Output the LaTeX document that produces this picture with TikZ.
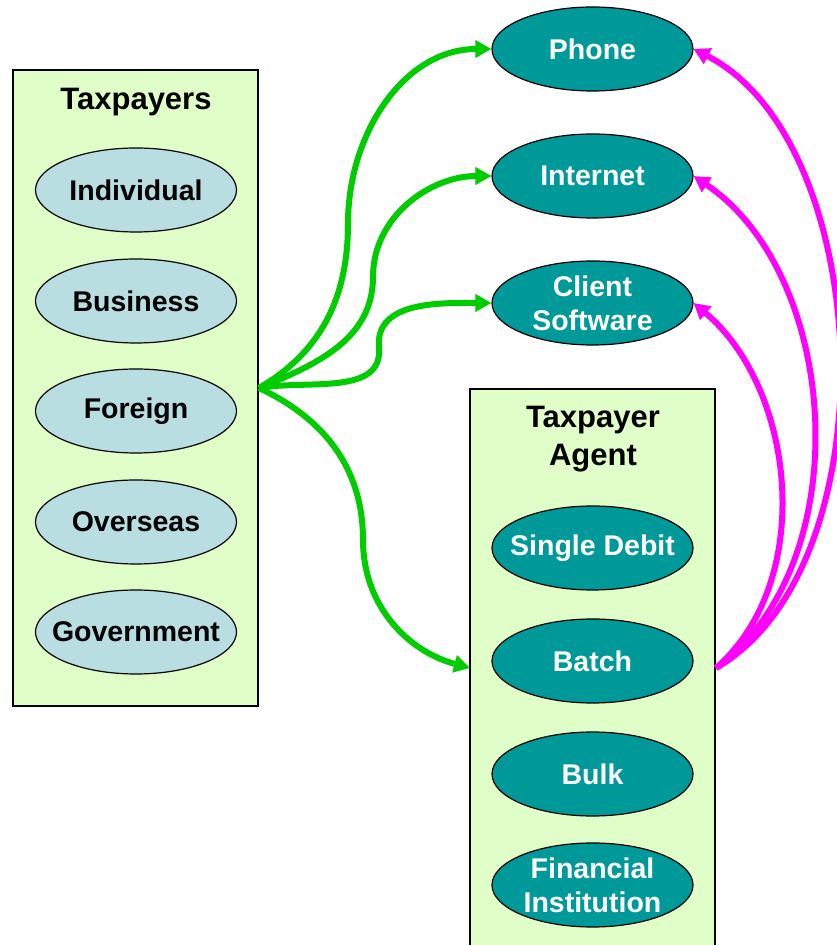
\documentclass[tikz,border=0pt]{standalone}
\usepackage{fontspec}
\setmainfont{Liberation Sans}
\usetikzlibrary{shapes.geometric,arrows.meta}
\definecolor{boxbg}{RGB}{224,255,200}
\definecolor{lightell}{RGB}{185,222,226}
\definecolor{tealell}{RGB}{0,153,153}
\definecolor{grn}{RGB}{0,204,0}
\definecolor{mag}{RGB}{255,0,255}
\tikzset{
  panel/.style={draw=black, line width=1.8pt, fill=boxbg, minimum width=245pt, inner sep=0pt},
  title/.style={font=\bfseries\fontsize{31}{38}\selectfont, align=center, text=black},
  baseell/.style={ellipse, draw=black, line width=1.2pt, minimum width=201pt, minimum height=84pt,
    inner xsep=-40pt, inner ysep=-10pt, align=center, font=\bfseries\fontsize{28.5}{34}\selectfont},
  blueell/.style={baseell, fill=lightell, text=black},
  tealell/.style={baseell, fill=tealell, text=white},
  tip/.style={-{Triangle[length=16pt,width=17pt]}},
  garrow/.style={draw=grn, line width=6pt, tip},
  marrow/.style={draw=mag, line width=6pt, tip},
}
\begin{document}
\begin{tikzpicture}[x=1pt,y=1pt]
\useasboundingbox (0,0) rectangle (837,945);
% panels
\node[panel, minimum height=636pt] (left) at (135.5,557) {};
\node[panel, minimum height=562pt, anchor=north] (right) at (592.5,557) {};
% titles
\node[title] (ttax) at (136,843) {Taxpayers};
\node[title] (tagent) at (593,506) {Taxpayer\\Agent};
% left ellipses
\node[blueell] (indiv) at (136,755) {Individual};
\node[blueell] (bus) at (136,644) {Business};
\node[blueell] (foreign) at (136,534) {Foreign};
\node[blueell] (overseas) at (136,423) {Overseas};
\node[blueell] (gov) at (136,313) {Government};
% right column ellipses
\node[tealell] (phone) at (592.5,896) {Phone};
\node[tealell] (internet) at (592.5,769) {Internet};
\node[tealell] (client) at (592.5,642) {Client\\Software};
\node[tealell] (single) at (592.5,397) {Single Debit};
\node[tealell] (batch) at (592.5,284) {Batch};
\node[tealell] (bulk) at (592.5,171) {Bulk};
\node[tealell] (fin) at (592.5,60) {Financial\\Institution};
% connector end points
\coordinate (gsrc) at (left.east);
\coordinate (agentin) at (470,277);
\coordinate (msrc) at (716,277);
\coordinate (g1) at (348,722);
\coordinate (g2) at (373,668);
\coordinate (g3) at (379,598);
\coordinate (g4) at (363,405);
% green connectors
\draw[garrow] (gsrc) to[out=30,in=-90] (g1) to[out=90,in=180] (phone.west);
\draw[garrow] (gsrc) to[out=22,in=-90] (g2) to[out=90,in=180] (internet.west);
\draw[garrow] (gsrc) to[out=10,in=-85] (g3) to[out=95,in=180] (client.west);
\draw[garrow] (gsrc) to[out=-25,in=90] (g4) to[out=-90,in=165] (agentin);
% magenta connectors
\draw[marrow] (msrc) to[out=30,in=-27,looseness=0.84] (phone.east);
\draw[marrow] (msrc) to[out=36,in=-34,looseness=0.92] (internet.east);
\draw[marrow] (msrc) to[out=41,in=-40,looseness=0.93] (client.east);
\end{tikzpicture}
\end{document}
